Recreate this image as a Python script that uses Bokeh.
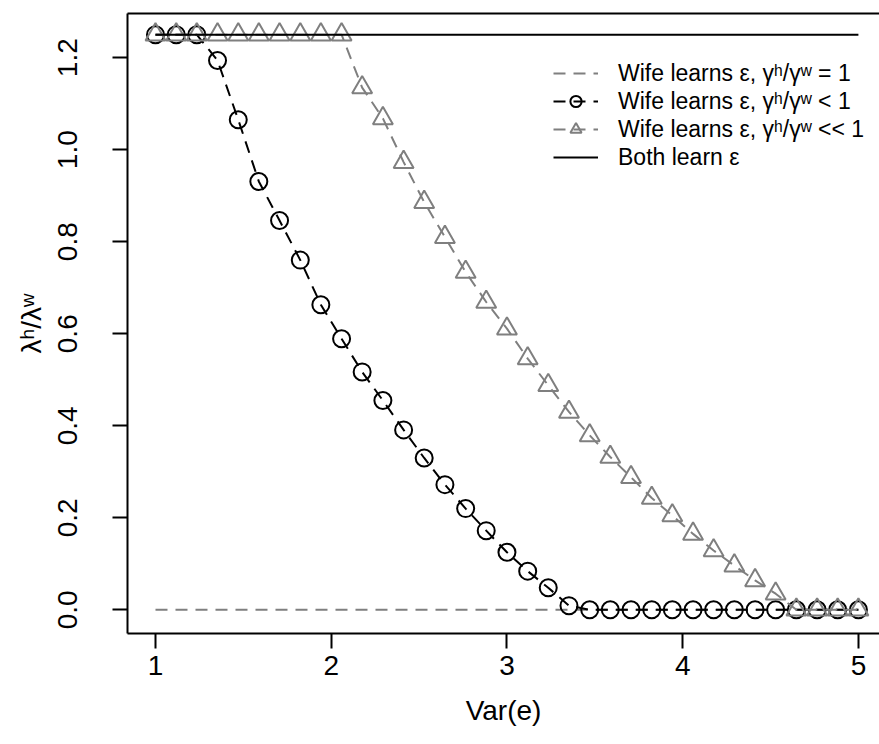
from bokeh.plotting import figure
from bokeh.models import (Range1d, FixedTicker, LinearAxis, Legend, LegendItem,
                          CustomJSTickFormatter)
from bokeh.embed import file_html
from bokeh.resources import INLINE

# ---- data ----
var_e = [1.000, 1.118, 1.235, 1.353, 1.471, 1.588, 1.706, 1.824, 1.941, 2.059,
         2.176, 2.294, 2.412, 2.529, 2.647, 2.765, 2.882, 3.000, 3.118, 3.235,
         3.353, 3.471, 3.588, 3.706, 3.824, 3.941, 4.059, 4.176, 4.294, 4.412,
         4.529, 4.647, 4.765, 4.882, 5.000]

ratio_lt1 = [1.25, 1.25, 1.25, 1.194, 1.065, 0.931, 0.846, 0.760, 0.663, 0.589,
             0.517, 0.455, 0.391, 0.330, 0.272, 0.220, 0.172, 0.125, 0.084, 0.048,
             0.009, 0.0, 0.0, 0.0, 0.0, 0.0, 0.0, 0.0, 0.0, 0.0,
             0.0, 0.0, 0.0, 0.0, 0.0]

ratio_llt1 = [1.25, 1.25, 1.25, 1.25, 1.25, 1.25, 1.25, 1.25, 1.25, 1.25,
              1.135, 1.068, 0.973, 0.886, 0.810, 0.734, 0.669, 0.611, 0.546, 0.488,
              0.430, 0.379, 0.332, 0.288, 0.243, 0.205, 0.165, 0.129, 0.096, 0.064,
              0.035, 0.0, 0.0, 0.0, 0.0]

eq1_x = [1, 5]
eq1_y = [0.0, 0.0]
both_x = [1, 5]
both_y = [1.25, 1.25]

x_ticks = [1, 2, 3, 4, 5]
y_ticks = [0.0, 0.2, 0.4, 0.6, 0.8, 1.0, 1.2]

labels = ["Wife learns ε, γʰ/γʷ = 1",
          "Wife learns ε, γʰ/γʷ < 1",
          "Wife learns ε, γʰ/γʷ << 1",
          "Both learn ε"]

FONT = "Liberation Sans"
GRAY = "#7f7f7f"

p = figure(width=879, height=744, output_backend="svg", toolbar_location=None,
           x_range=Range1d(0.8407, 5.12), y_range=Range1d(-0.0515, 1.296),
           x_axis_label="Var(e)", y_axis_label="λʰ/λʷ",
           min_border_left=127, min_border_right=0, min_border_top=13,
           min_border_bottom=111)
p.grid.visible = False
p.outline_line_color = None
p.background_fill_color = "white"
p.border_fill_color = "white"

for ax in (p.xaxis[0], p.yaxis[0]):
    ax.axis_line_width = 2
    ax.axis_line_color = "black"
    ax.major_tick_line_width = 2
    ax.major_tick_out = 15
    ax.major_tick_in = 0
    ax.minor_tick_line_color = None
    ax.major_label_text_font = FONT
    ax.major_label_text_font_size = "28px"
    ax.major_label_text_color = "black"
    ax.axis_label_text_font = FONT
    ax.axis_label_text_font_size = "28px"
    ax.axis_label_text_font_style = "normal"
    ax.axis_label_text_color = "black"

p.xaxis[0].ticker = FixedTicker(ticks=x_ticks)
p.xaxis[0].major_label_standoff = 7
p.xaxis[0].axis_label_standoff = 17

p.yaxis[0].ticker = FixedTicker(ticks=y_ticks)
p.yaxis[0].formatter = CustomJSTickFormatter(code="return tick.toFixed(1);")
p.yaxis[0].major_label_orientation = "vertical"
p.yaxis[0].major_label_standoff = 35
p.yaxis[0].axis_label_standoff = 9

top_axis = LinearAxis(ticker=FixedTicker(ticks=[]), axis_line_width=2,
                      axis_line_color="black", major_tick_out=0, major_tick_in=0,
                      minor_tick_out=0, minor_tick_in=0,
                      major_label_text_font_size="0px")
p.add_layout(top_axis, "above")

r_eq = p.line(eq1_x, eq1_y, line_color=GRAY, line_width=2, line_dash="12 8")

r_c_line = p.line(var_e, ratio_lt1, line_color="black", line_width=2, line_dash="12 8")
r_c_pts = p.scatter(var_e, ratio_lt1, marker="circle", size=17, fill_color=None,
                    line_color="black", line_width=2)

r_t_line = p.line(var_e, ratio_llt1, line_color=GRAY, line_width=2, line_dash="12 8")
r_t_pts = p.scatter(var_e, ratio_llt1, marker="triangle", size=20, fill_color=None,
                    line_color=GRAY, line_width=2)

r_both = p.line(both_x, both_y, line_color="black", line_width=2)

legend = Legend(items=[
    LegendItem(label=labels[0], renderers=[r_eq]),
    LegendItem(label=labels[1], renderers=[r_c_line, r_c_pts]),
    LegendItem(label=labels[2], renderers=[r_t_line, r_t_pts]),
    LegendItem(label=labels[3], renderers=[r_both]),
], location=(426, 462))
legend.padding = 0
legend.margin = 0
legend.spacing = 0
legend.label_height = 28
legend.glyph_height = 28
legend.glyph_width = 45
legend.label_standoff = 20
legend.border_line_color = None
legend.background_fill_alpha = 0
legend.label_text_font = FONT
legend.label_text_font_size = "23px"
legend.label_text_color = "black"
p.add_layout(legend, "center")

open("out.html", "w").write(file_html(p, INLINE))
